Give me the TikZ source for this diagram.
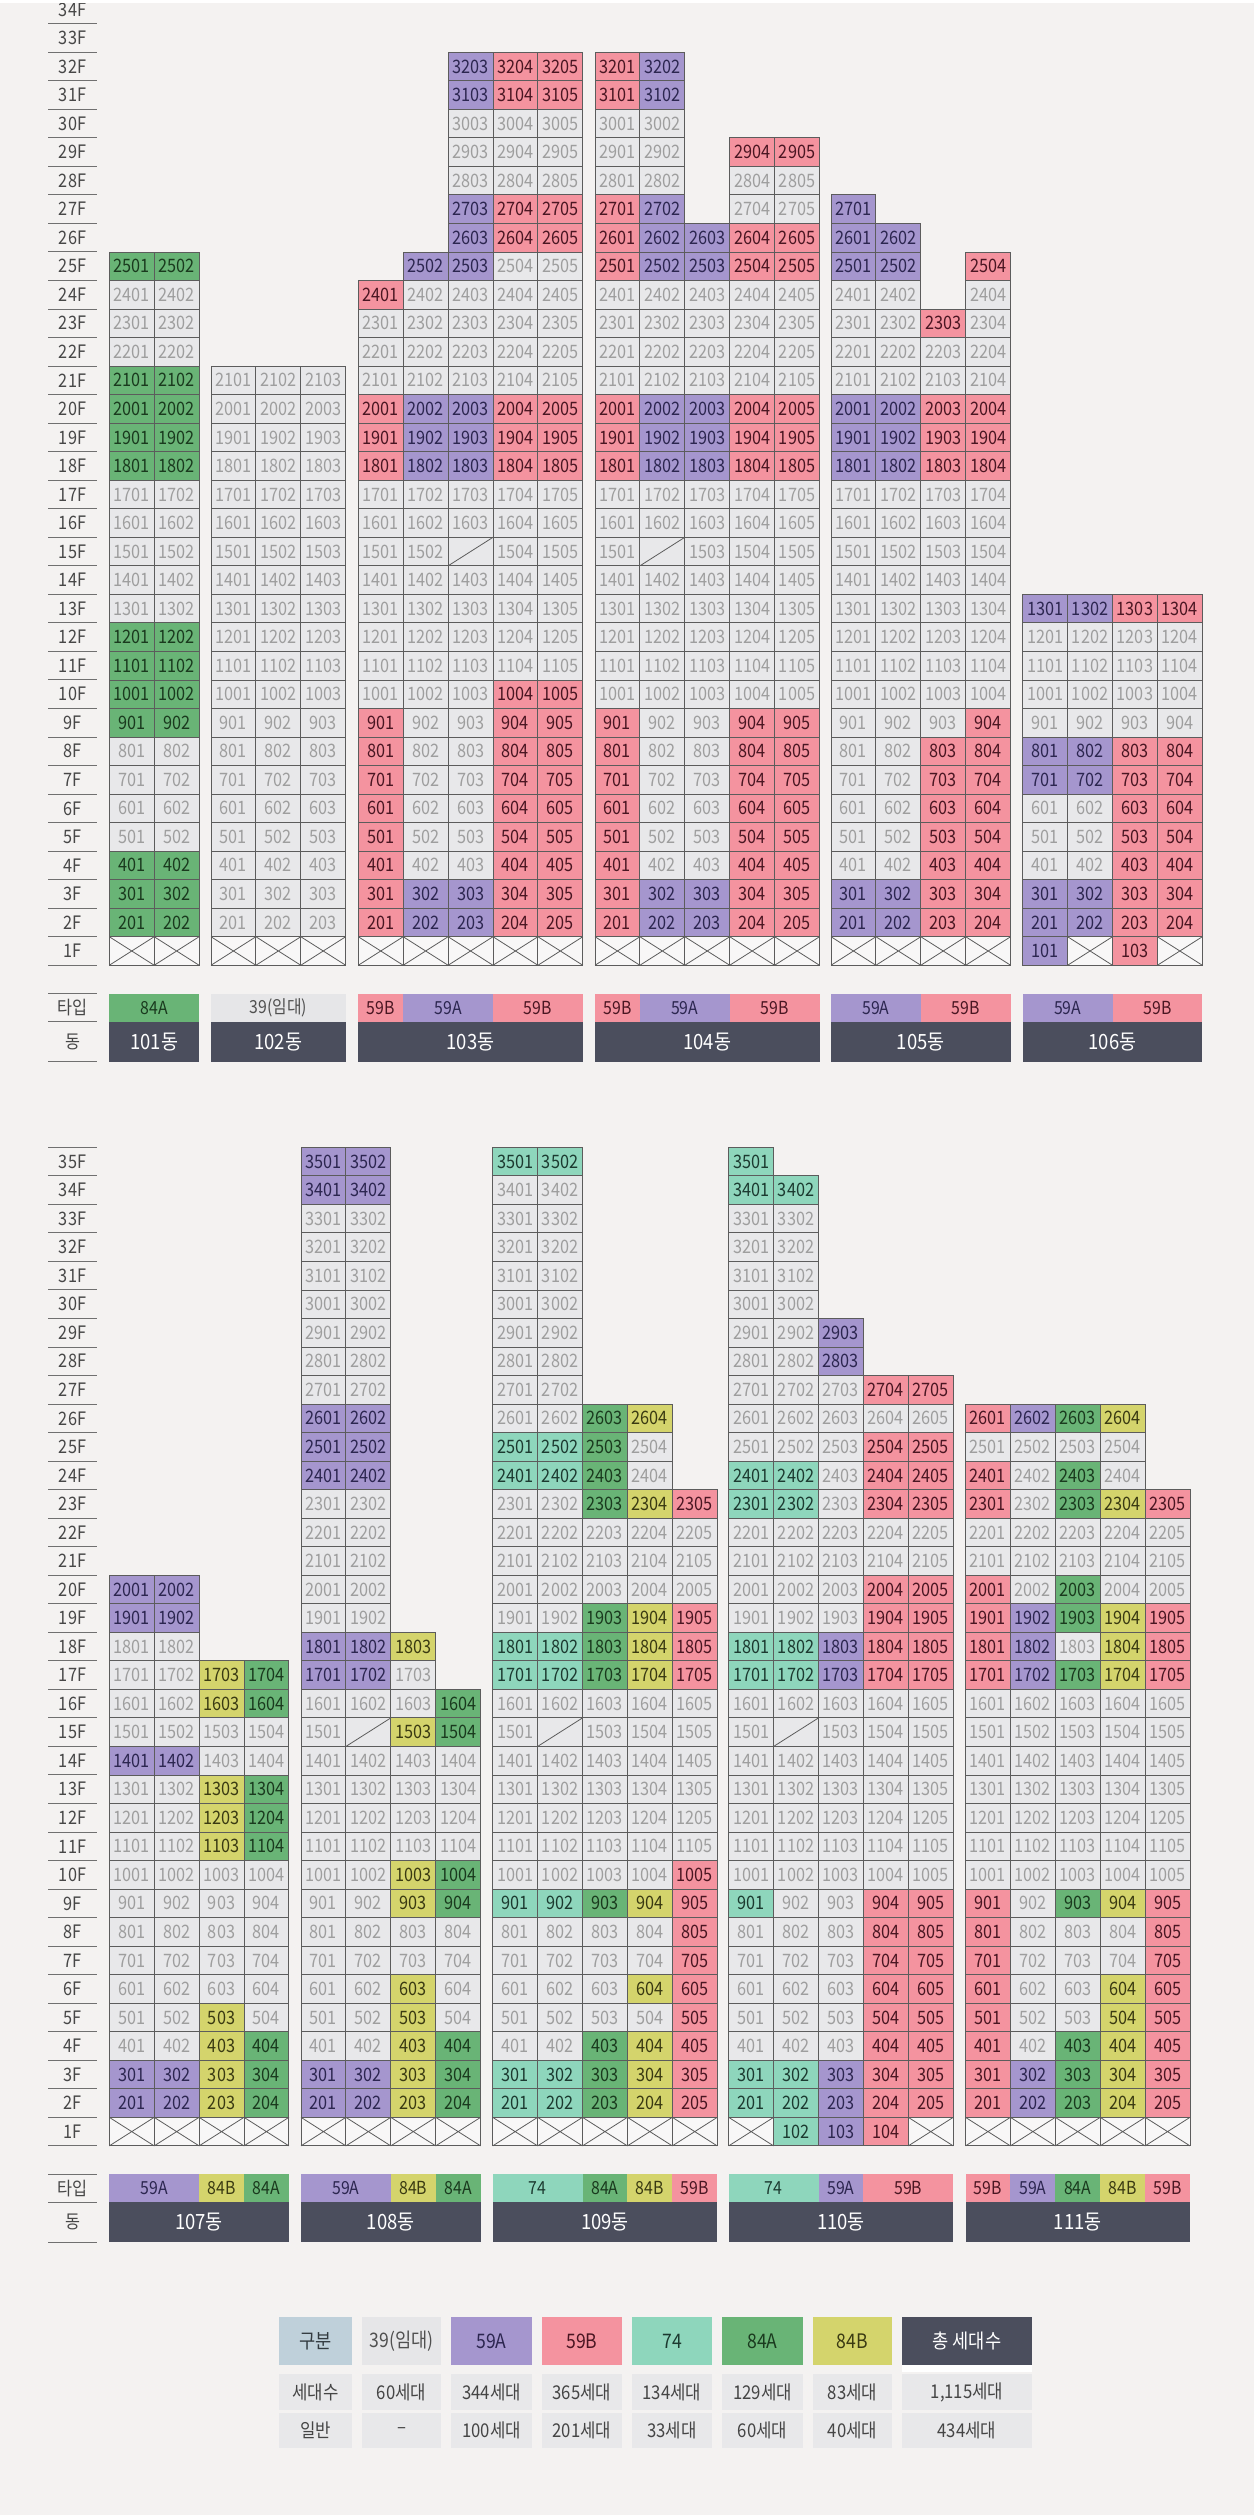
\documentclass[tikz,border=0pt]{standalone}
\usepackage{fontspec}
\setmainfont{Noto Sans CJK KR}[FakeStretch=0.88]
\definecolor{bg}{HTML}{F4F2F1}
\definecolor{fg}{HTML}{E8E8EA}\definecolor{tg}{HTML}{9E9E9E}
\definecolor{fP}{HTML}{A596CE}\definecolor{tP}{HTML}{2C2650}
\definecolor{fK}{HTML}{F4939F}\definecolor{tK}{HTML}{4A1622}
\definecolor{fG}{HTML}{69B476}\definecolor{tG}{HTML}{1A3A1E}
\definecolor{fT}{HTML}{8ED6BC}\definecolor{tT}{HTML}{1C3A30}
\definecolor{fY}{HTML}{D4D46C}\definecolor{tY}{HTML}{3A3A12}
\definecolor{fX}{HTML}{F8F7F7}\definecolor{tX}{HTML}{000000}
\definecolor{fD}{HTML}{E8E8EA}\definecolor{tD}{HTML}{000000}
\definecolor{fL}{HTML}{E6E6E8}\definecolor{tL}{HTML}{505050}
\definecolor{fH}{HTML}{BFD0DA}\definecolor{tH}{HTML}{333B40}
\definecolor{dark}{HTML}{4B4E5D}
\definecolor{cline}{HTML}{5C5C5C}
\definecolor{flc}{HTML}{474747}
\definecolor{flline}{HTML}{707070}
\definecolor{tcellc}{HTML}{E8E8EA}
\definecolor{tcelltxt}{HTML}{454545}

% building grid: #1 id, #2 x0, #3 y of 1F top, #4 top floor, #5 rows (top floor first)
\newcommand\bldg[5]{%
\foreach \rowlist [count=\r] in {#5} {%
\foreach \code [count=\c] in \rowlist {%
\if\code N\else
\pgfmathtruncatemacro\flr{#4-\r+1}%
\pgfmathtruncatemacro\unum{\flr*100+\c}%
\pgfmathsetmacro\cx{#2+(\c-0.5)*44.9}%
\pgfmathsetmacro\cy{#3-(\flr-1)*28.53+14.265}%
\edef\cfill{f\code}\edef\ctxt{t\code}%
\def\celltext{\unum}%
\if\code X\def\celltext{}\fi
\if\code D\def\celltext{}\fi
\node[cellbox, fill=\cfill, text=\ctxt] (u#1-\unum) at (\cx,\cy) {\celltext};
\if\code X\draw[xline] (u#1-\unum.north west) -- (u#1-\unum.south east) (u#1-\unum.south west) -- (u#1-\unum.north east);\fi
\if\code D\draw[xline] (u#1-\unum.south west) -- (u#1-\unum.north east);\fi
\fi
}}}

% floor label column: #1 id, #2 y of 1F top, #3 max floor
\newcommand\floorcol[3]{%
\foreach \f in {1,...,#3} {%
\pgfmathsetmacro\yt{#2-(\f-1)*28.53}%
\node[flabel] (fl#1-\f) at (72.5,\yt+14.265) {\f F};
\coordinate (flA#1-\f) at (48,\yt+28.53);
\coordinate (flB#1-\f) at (97,\yt+28.53);
\draw[fline] (flA#1-\f) -- (flB#1-\f);
}
\coordinate (flA#1-top) at (48,{#2-(#3-1)*28.53});
\coordinate (flB#1-top) at (97,{#2-(#3-1)*28.53});
\draw[fline] (flA#1-top) -- (flB#1-top);
}

% legend label column: #1 id, #2 type row top
\newcommand\legendcol[2]{%
\node[flabel] (lt#1) at (72.5,{#2+14}) {타입};
\node[flabel] (ld#1) at (72.5,{#2+48}) {동};
\coordinate (la#1) at (48,#2); \coordinate (lb#1) at (97,#2);
\coordinate (lc#1) at (48,{#2+28}); \coordinate (ld2#1) at (97,{#2+28});
\coordinate (le#1) at (48,{#2+68}); \coordinate (lf#1) at (97,{#2+68});
\draw[fline] (la#1) -- (lb#1) (lc#1) -- (ld2#1) (le#1) -- (lf#1);
}

% type box: #1 name, #2 x0, #3 cells, #4 code, #5 text, #6 top
\newcommand\tbox[6]{%
\node[typebox, minimum width={#3*44.9}, fill=f#4, text=t#4, anchor=north west] (#1) at (#2,#6) {#5};}

% building box: #1 name, #2 x0, #3 cells, #4 text, #5 top
\newcommand\bbox[5]{%
\node[bldbox, minimum width={#3*44.9}, anchor=north west] (#1) at (#2,#5) {#4};}

% table column
\newcommand\tabcol[8]{%
\node[thead, fill=#4, text=#5, minimum width={#3-#2}, anchor=north west] (th#1) at (#2,2317) {#6};
\node[tcell, minimum width={#3-#2}, minimum height=36, anchor=north west] (tr#1) at (#2,2374) {#7};
\node[tcell, minimum width={#3-#2}, minimum height=35, anchor=north west] (ts#1) at (#2,2413) {#8};
}

\begin{document}
\begin{tikzpicture}[x=1pt,y=-1pt,
cellbox/.style={rectangle, draw=cline, line width=0.9pt, minimum width=44.9pt, minimum height=28.53pt, inner sep=0pt, outer sep=0pt, font=\fontsize{18.5}{18.5}\selectfont},
xline/.style={draw=cline, line width=0.8pt},
flabel/.style={inner sep=0pt, text=flc, font=\fontsize{18.5}{18.5}\selectfont},
fline/.style={draw=flline, line width=1pt},
typebox/.style={rectangle, minimum height=28pt, inner sep=0pt, outer sep=0pt, font=\fontsize{18}{18}\selectfont},
bldbox/.style={rectangle, fill=dark, text=white, minimum height=40pt, inner sep=0pt, outer sep=0pt, font=\fontsize{21}{21}\selectfont},
thead/.style={rectangle, minimum height=48pt, inner sep=0pt, outer sep=0pt, font=\fontsize{20}{20}\selectfont},
tcell/.style={rectangle, fill=tcellc, text=tcelltxt, inner sep=0pt, outer sep=0pt, font=\fontsize{19}{19}\selectfont}]
\fill[bg] (0,0) rectangle (1254,2515);
\useasboundingbox (0,0) rectangle (1254,2515);

% ---------- top section ----------
\floorcol{T}{936.72}{34}
\fill[white] (0,0) rectangle (1254,3);
\bldg{101}{109.3}{936.72}{25}{%
{G,G},{g,g},{g,g},{g,g},{G,G},{G,G},{G,G},{G,G},{g,g},{g,g},{g,g},{g,g},{g,g},%
{G,G},{G,G},{G,G},{G,G},{g,g},{g,g},{g,g},{g,g},{G,G},{G,G},{G,G},{X,X}}
\bldg{102}{211}{936.72}{21}{%
{g,g,g},{g,g,g},{g,g,g},{g,g,g},{g,g,g},{g,g,g},{g,g,g},{g,g,g},{g,g,g},{g,g,g},%
{g,g,g},{g,g,g},{g,g,g},{g,g,g},{g,g,g},{g,g,g},{g,g,g},{g,g,g},{g,g,g},{g,g,g},{X,X,X}}
\bldg{103}{358.3}{936.72}{32}{%
{N,N,P,K,K},{N,N,P,K,K},{N,N,g,g,g},{N,N,g,g,g},{N,N,g,g,g},{N,N,P,K,K},{N,N,P,K,K},{N,P,P,g,g},%
{K,g,g,g,g},{g,g,g,g,g},{g,g,g,g,g},{g,g,g,g,g},%
{K,P,P,K,K},{K,P,P,K,K},{K,P,P,K,K},%
{g,g,g,g,g},{g,g,g,g,g},{g,g,D,g,g},{g,g,g,g,g},{g,g,g,g,g},{g,g,g,g,g},{g,g,g,g,g},%
{g,g,g,K,K},%
{K,g,g,K,K},{K,g,g,K,K},{K,g,g,K,K},{K,g,g,K,K},{K,g,g,K,K},{K,g,g,K,K},%
{K,P,P,K,K},{K,P,P,K,K},{X,X,X,X,X}}
\bldg{104}{595}{936.72}{32}{%
{K,P,N,N,N},{K,P,N,N,N},{g,g,N,N,N},{g,g,N,K,K},{g,g,N,g,g},{K,P,N,g,g},{K,P,P,K,K},{K,P,P,K,K},%
{g,g,g,g,g},{g,g,g,g,g},{g,g,g,g,g},{g,g,g,g,g},%
{K,P,P,K,K},{K,P,P,K,K},{K,P,P,K,K},%
{g,g,g,g,g},{g,g,g,g,g},{g,D,g,g,g},{g,g,g,g,g},{g,g,g,g,g},{g,g,g,g,g},{g,g,g,g,g},%
{g,g,g,g,g},%
{K,g,g,K,K},{K,g,g,K,K},{K,g,g,K,K},{K,g,g,K,K},{K,g,g,K,K},{K,g,g,K,K},%
{K,P,P,K,K},{K,P,P,K,K},{X,X,X,X,X}}
\bldg{105}{831}{936.72}{27}{%
{P,N,N,N},{P,P,N,N},{P,P,N,K},{g,g,N,g},{g,g,K,g},{g,g,g,g},{g,g,g,g},%
{P,P,K,K},{P,P,K,K},{P,P,K,K},%
{g,g,g,g},{g,g,g,g},{g,g,g,g},{g,g,g,g},{g,g,g,g},{g,g,g,g},{g,g,g,g},{g,g,g,g},%
{g,g,g,K},%
{g,g,K,K},{g,g,K,K},{g,g,K,K},{g,g,K,K},{g,g,K,K},%
{P,P,K,K},{P,P,K,K},{X,X,X,X}}
\bldg{106}{1022.7}{936.72}{13}{%
{P,P,K,K},{g,g,g,g},{g,g,g,g},{g,g,g,g},{g,g,g,g},{P,P,K,K},{P,P,K,K},%
{g,g,K,K},{g,g,K,K},{g,g,K,K},{P,P,K,K},{P,P,K,K},{P,X,K,X}}

% top legend
\legendcol{T}{993.7}
\tbox{lg101a}{109.3}{2}{G}{84A}{993.7}
\tbox{lg102a}{211}{3}{L}{39(임대)}{993.7}
\tbox{lg103a}{358.3}{1}{K}{59B}{993.7}
\tbox{lg103b}{403.2}{2}{P}{59A}{993.7}
\tbox{lg103c}{493.0}{2}{K}{59B}{993.7}
\tbox{lg104a}{595}{1}{K}{59B}{993.7}
\tbox{lg104b}{639.9}{2}{P}{59A}{993.7}
\tbox{lg104c}{729.7}{2}{K}{59B}{993.7}
\tbox{lg105a}{831}{2}{P}{59A}{993.7}
\tbox{lg105b}{920.8}{2}{K}{59B}{993.7}
\tbox{lg106a}{1022.7}{2}{P}{59A}{993.7}
\tbox{lg106b}{1112.5}{2}{K}{59B}{993.7}
\bbox{b101}{109.3}{2}{101동}{1021.7}
\bbox{b102}{211}{3}{102동}{1021.7}
\bbox{b103}{358.3}{5}{103동}{1021.7}
\bbox{b104}{595}{5}{104동}{1021.7}
\bbox{b105}{831}{4}{105동}{1021.7}
\bbox{b106}{1022.7}{4}{106동}{1021.7}

% ---------- bottom section ----------
\floorcol{B}{2117.32}{35}
\bldg{107}{109.3}{2117.32}{20}{%
{P,P,N,N},{P,P,N,N},{g,g,N,N},{g,g,Y,G},{g,g,Y,G},{g,g,g,g},{P,P,g,g},{g,g,Y,G},{g,g,Y,G},{g,g,Y,G},%
{g,g,g,g},{g,g,g,g},{g,g,g,g},{g,g,g,g},{g,g,g,g},%
{g,g,Y,g},{g,g,Y,G},{P,P,Y,G},{P,P,Y,G},{X,X,X,X}}
\bldg{108}{301}{2117.32}{35}{%
{P,P,N,N},{P,P,N,N},%
{g,g,N,N},{g,g,N,N},{g,g,N,N},{g,g,N,N},{g,g,N,N},{g,g,N,N},{g,g,N,N},%
{P,P,N,N},{P,P,N,N},{P,P,N,N},%
{g,g,N,N},{g,g,N,N},{g,g,N,N},{g,g,N,N},{g,g,N,N},%
{P,P,Y,N},{P,P,g,N},{g,g,g,G},{g,D,Y,G},%
{g,g,g,g},{g,g,g,g},{g,g,g,g},{g,g,g,g},%
{g,g,Y,G},{g,g,Y,G},{g,g,g,g},{g,g,g,g},{g,g,Y,g},{g,g,Y,g},%
{g,g,Y,G},{P,P,Y,G},{P,P,Y,G},{X,X,X,X}}
\bldg{109}{492.7}{2117.32}{35}{%
{T,T,N,N,N},%
{g,g,N,N,N},{g,g,N,N,N},{g,g,N,N,N},{g,g,N,N,N},{g,g,N,N,N},{g,g,N,N,N},{g,g,N,N,N},{g,g,N,N,N},%
{g,g,G,Y,N},{T,T,G,g,N},{T,T,G,g,N},{g,g,G,Y,K},%
{g,g,g,g,g},{g,g,g,g,g},{g,g,g,g,g},%
{g,g,G,Y,K},{T,T,G,Y,K},{T,T,G,Y,K},%
{g,g,g,g,g},{g,D,g,g,g},{g,g,g,g,g},{g,g,g,g,g},{g,g,g,g,g},{g,g,g,g,g},%
{g,g,g,g,K},{T,T,G,Y,K},{g,g,g,g,K},{g,g,g,g,K},{g,g,g,Y,K},{g,g,g,g,K},{g,g,G,Y,K},{T,T,G,Y,K},{T,T,G,Y,K},{X,X,X,X,X}}
\bldg{110}{728.7}{2117.32}{35}{%
{T,N,N,N,N},{T,T,N,N,N},%
{g,g,N,N,N},{g,g,N,N,N},{g,g,N,N,N},{g,g,N,N,N},%
{g,g,P,N,N},{g,g,P,N,N},%
{g,g,g,K,K},{g,g,g,g,g},{g,g,g,K,K},{T,T,g,K,K},{T,T,g,K,K},%
{g,g,g,g,g},{g,g,g,g,g},%
{g,g,g,K,K},{g,g,g,K,K},%
{T,T,P,K,K},{T,T,P,K,K},%
{g,g,g,g,g},{g,D,g,g,g},{g,g,g,g,g},{g,g,g,g,g},{g,g,g,g,g},{g,g,g,g,g},{g,g,g,g,g},%
{T,g,g,K,K},%
{g,g,g,K,K},{g,g,g,K,K},{g,g,g,K,K},{g,g,g,K,K},{g,g,g,K,K},%
{T,T,P,K,K},{T,T,P,K,K},{X,T,P,K,X}}
\bldg{111}{965.5}{2117.32}{26}{%
{K,P,G,Y,N},{g,g,g,g,N},{K,g,G,g,N},{K,g,G,Y,K},%
{g,g,g,g,g},{g,g,g,g,g},%
{K,g,G,g,g},{K,P,G,Y,K},{K,P,g,Y,K},{K,P,G,Y,K},%
{g,g,g,g,g},{g,g,g,g,g},{g,g,g,g,g},{g,g,g,g,g},{g,g,g,g,g},{g,g,g,g,g},{g,g,g,g,g},%
{K,g,G,Y,K},{K,g,g,g,K},{K,g,g,g,K},{K,g,g,Y,K},{K,g,g,Y,K},{K,g,G,Y,K},{K,P,G,Y,K},{K,P,G,Y,K},{X,X,X,X,X}}

% bottom legend
\legendcol{B}{2174.3}
\tbox{lg107a}{109.3}{2}{P}{59A}{2174.3}
\tbox{lg107b}{199.1}{1}{Y}{84B}{2174.3}
\tbox{lg107c}{244.0}{1}{G}{84A}{2174.3}
\tbox{lg108a}{301}{2}{P}{59A}{2174.3}
\tbox{lg108b}{390.8}{1}{Y}{84B}{2174.3}
\tbox{lg108c}{435.7}{1}{G}{84A}{2174.3}
\tbox{lg109a}{492.7}{2}{T}{74}{2174.3}
\tbox{lg109b}{582.5}{1}{G}{84A}{2174.3}
\tbox{lg109c}{627.4}{1}{Y}{84B}{2174.3}
\tbox{lg109d}{672.3}{1}{K}{59B}{2174.3}
\tbox{lg110a}{728.7}{2}{T}{74}{2174.3}
\tbox{lg110b}{818.5}{1}{P}{59A}{2174.3}
\tbox{lg110c}{863.4}{2}{K}{59B}{2174.3}
\tbox{lg111a}{965.5}{1}{K}{59B}{2174.3}
\tbox{lg111b}{1010.4}{1}{P}{59A}{2174.3}
\tbox{lg111c}{1055.3}{1}{G}{84A}{2174.3}
\tbox{lg111d}{1100.2}{1}{Y}{84B}{2174.3}
\tbox{lg111e}{1145.1}{1}{K}{59B}{2174.3}
\bbox{b107}{109.3}{4}{107동}{2202.3}
\bbox{b108}{301}{4}{108동}{2202.3}
\bbox{b109}{492.7}{5}{109동}{2202.3}
\bbox{b110}{728.7}{5}{110동}{2202.3}
\bbox{b111}{965.5}{5}{111동}{2202.3}

% ---------- summary table ----------
\tabcol{c0}{279}{352}{fH}{tH}{구분}{세대수}{일반}
\tabcol{c1}{362}{441}{fL}{tL}{39(임대)}{60세대}{–}
\tabcol{c2}{451}{532}{fP}{tP}{59A}{344세대}{100세대}
\tabcol{c3}{542}{622}{fK}{tK}{59B}{365세대}{201세대}
\tabcol{c4}{632}{712}{fT}{tT}{74}{134세대}{33세대}
\tabcol{c5}{722}{803}{fG}{tG}{84A}{129세대}{60세대}
\tabcol{c6}{813}{892}{fY}{tY}{84B}{83세대}{40세대}
\tabcol{c7}{902}{1032}{dark}{white}{총 세대수}{1,115세대}{434세대}
\fill[white] (902,2365) rectangle (1032,2372);
\end{tikzpicture}
\end{document}
